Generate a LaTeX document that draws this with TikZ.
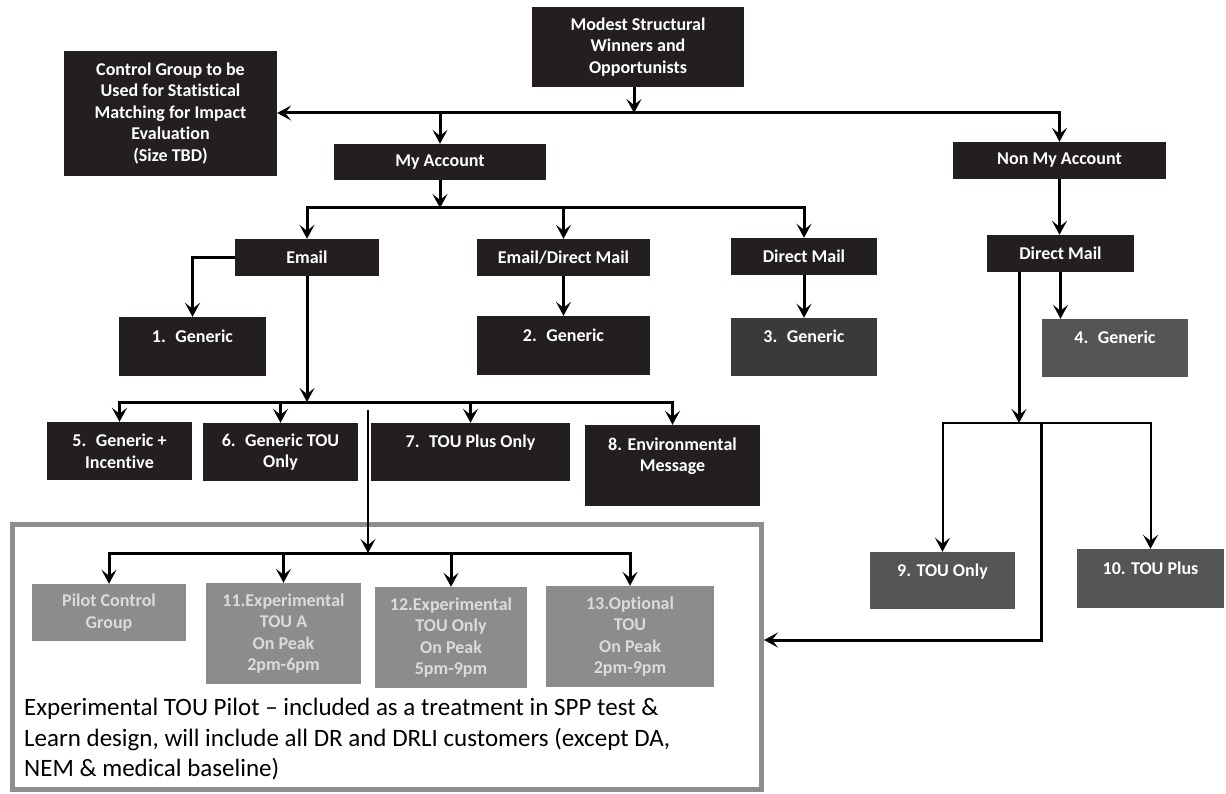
\documentclass[tikz,border=0pt]{standalone}
\usepackage{fontspec}
\setmainfont{Carlito}[Ligatures=NoCommon]
\usetikzlibrary{arrows.meta}
\definecolor{boxblack}{HTML}{231F20}
\definecolor{boxdark}{HTML}{3A3A3A}
\definecolor{boxmid}{HTML}{555557}
\definecolor{boxlight}{HTML}{8C8C8E}
\definecolor{framegrey}{HTML}{8E8E8E}
\begin{document}
\begin{tikzpicture}[x=1pt, y=-1pt,
    box/.style={rectangle, fill=boxblack, text=white, inner sep=0pt, align=center,
      font=\bfseries\fontsize{18}{21.5}\selectfont},
    wh/.style 2 args={minimum width=#1, minimum height=#2},
    pilotbox/.style={box, fill=boxlight, text=white!86!black},
    conn/.style={line width=3pt, -{Stealth[length=14pt,width=15pt,inset=6pt]}},
    thinconn/.style={conn, line width=2pt},
  ]
  \useasboundingbox (0,0) rectangle (1226,794);
  %%%PILOT FRAME%%%
  \node[draw=framegrey, line width=5pt, inner sep=0pt, wh={749}{265}] (pilot) at (387,657) {};
  \node[anchor=north west, align=left, inner sep=0pt,
    font=\fontsize{25}{30.5}\selectfont] (note) at (24,698)
    {Experimental TOU Pilot \textendash\ included as a treatment in SPP test \&\\
     Learn design, will include all DR and DRLI customers (except DA,\\
     NEM \& medical baseline)};
  %top level
  \node[box, wh={212}{80}] (modest) at (638,47) {Modest Structural\\Winners and\\Opportunists};
  \node[box, wh={213}{125}] (ctrl) at (170.5,113.5)
    {Control Group to be\\Used for Statistical\\Matching for Impact\\Evaluation\\(Size TBD)};
  \node[box, wh={212}{36}] (myacc) at (440,162) {My Account};
  \node[box, wh={213}{37}] (nonmy) at (1059.5,160.5) {Non My Account};
  %channels
  \node[box, wh={144}{37}] (email) at (307,257.5) {Email};
  \node[box, wh={173}{37}] (emdm) at (563.5,257.5) {Email/Direct Mail};
  \node[box, wh={146}{37}] (dmail) at (804,256.5) {Direct Mail};
  \node[box, wh={147}{37}] (dmail2) at (1060.5,253.5) {Direct Mail};
  %generic
  \node[box, wh={147}{59}] (g1) at (192.5,346.5) {1.~ Generic\\~};
  \node[box, wh={173}{59}] (g2) at (563.5,345.5) {2.~ Generic\\~};
  \node[box, fill=boxdark, wh={146}{58}] (g3) at (804,347) {3.~ Generic\\~};
  \node[box, fill=boxmid, wh={146}{58}] (g4) at (1115,348) {4.~ Generic\\~};
  %treatments
  \node[box, wh={145}{58}] (t5) at (119.5,451) {5.~ Generic +\\Incentive};
  \node[box, wh={155}{58}] (t6) at (280.5,452) {6.~ Generic TOU\\Only};
  \node[box, wh={199}{58}] (t7) at (470.5,452) {7.~ TOU Plus Only\\~};
  \node[box, wh={175}{81}] (t8) at (672.5,465.5) {8. Environmental\\Message\\~};
  \node[box, fill=boxmid, wh={145}{57}] (t9) at (942.5,580.5) {9. TOU Only\\~};
  \node[box, fill=boxmid, wh={147}{59}] (t10) at (1150.5,578.5) {10. TOU Plus\\~};
  %pilot groups
  \node[pilotbox, wh={154}{57}] (pc) at (109,612.5) {Pilot Control\\Group};
  \node[pilotbox, wh={155}{101}] (p11) at (283.5,633.5) {11.Experimental\\TOU A\\On Peak\\2pm-6pm};
  \node[pilotbox, wh={152}{101}] (p12) at (451,637.5) {12.Experimental\\TOU Only\\On Peak\\5pm-9pm};
  \node[pilotbox, wh={168}{101}] (p13) at (630,636.5) {13.Optional\\TOU\\On Peak\\2pm-9pm};
  %branch points
  \coordinate (top) at (634,113);
  \coordinate (mya) at (440,208);
  \coordinate (emh) at (307,402);
  \coordinate (dmh) at (1019,423);
  \coordinate (dmv) at (1041,423);
  \coordinate (back) at (1041,640);
  \coordinate (feed) at (368,410);
  \coordinate (plh) at (368,553);
  %top arrows
  \draw[conn] (top |- modest.south) -- (top);
  \draw[conn] (top) -- (top -| ctrl.east);
  \draw[conn] (top) -| (nonmy.north);
  \draw[conn] (top -| myacc.north) -- (myacc.north);
  %my account
  \draw[conn] (myacc.south) -- (mya);
  \draw[conn] (mya) -| (email.north);
  \draw[conn] (mya) -| (dmail.north);
  \draw[conn] (mya -| emdm.north) -- (emdm.north);
  %email
  \draw[conn] (email.west) -| (g1.north);
  \draw[conn] (email.south) -- (emh);
  \draw[conn] (emh) -| (t5.north);
  \draw[conn] (emh) -| (t8.north);
  \draw[conn] (emh -| t6.north) -- (t6.north);
  \draw[conn] (emh -| t7.north) -- (t7.north);
  %direct mail
  \draw[conn] (emdm.south) -- (g2.north);
  \draw[conn] (dmail.south) -- (g3.north);
  %non my account
  \draw[conn] (nonmy.south) -- (nonmy.south |- dmail2.north);
  \draw[conn] (dmail2.south) -- (dmail2.south |- g4.north);
  \draw[conn] (dmail2.south -| dmh) -- (dmh);
  \draw[thinconn] (dmh) -| (t9.north);
  \draw[thinconn] (dmh) -| (t10.north);
  \draw[conn] (dmv) -- (back) -- (back -| pilot.east);
  %pilot
  \draw[thinconn] (feed) -- (plh);
  \draw[conn] (plh) -| (pc.north);
  \draw[conn] (plh) -| (p13.north);
  \draw[conn] (plh -| p11.north) -- (p11.north);
  \draw[conn] (plh -| p12.north) -- (p12.north);
\end{tikzpicture}
\end{document}
